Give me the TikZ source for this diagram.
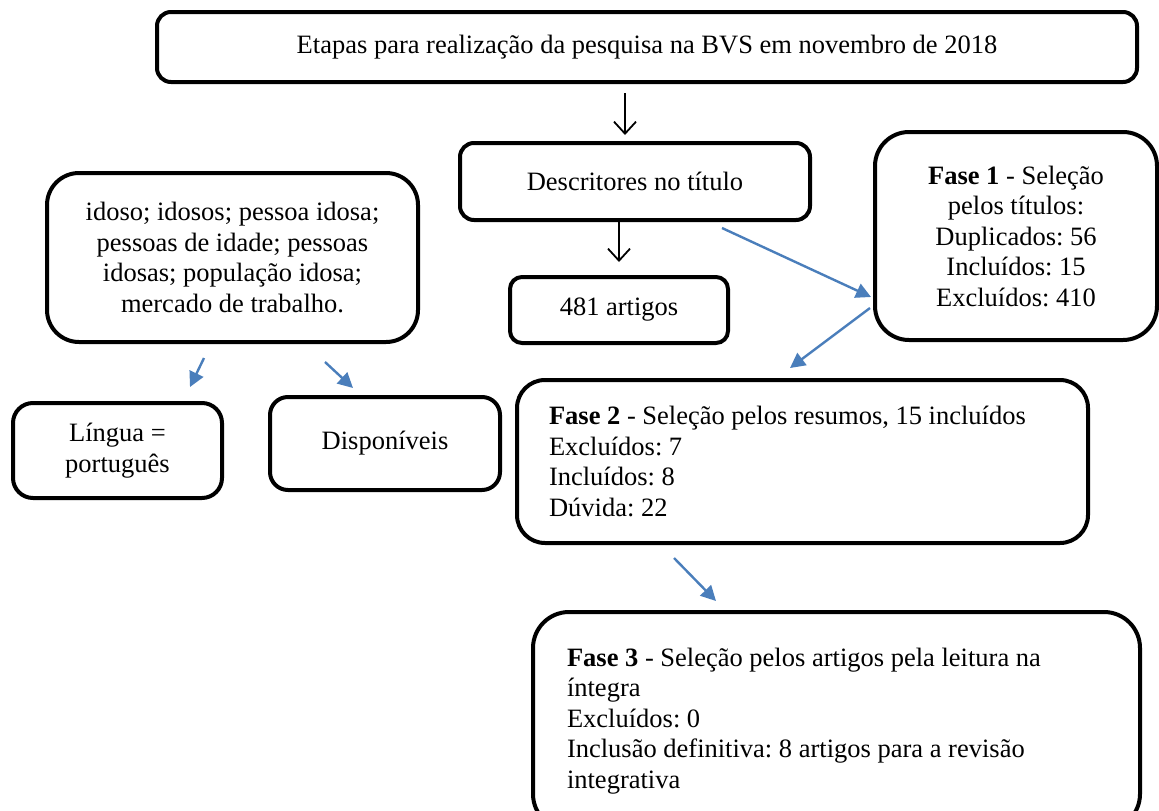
\documentclass[tikz,border=0pt]{standalone}
\usepackage{fontspec}
\setmainfont{Liberation Serif}
\usetikzlibrary{arrows.meta}
\definecolor{oblue}{HTML}{4A7EBB}
\frenchspacing

\tikzset{
  caixa/.style={draw, line width=4pt, rounded corners=#1, align=center,
    inner sep=0pt, font=\fontsize{26.5}{30.5}\selectfont},
  caixa/.default=14pt,
  setap/.style={-{Straight Barb[length=12pt,width=22pt]}, line width=1.8pt},
  setaz/.style={-{Triangle[length=15pt,width=15pt]}, oblue, line width=2.4pt}
}

\begin{document}
\begin{tikzpicture}[x=1pt, y=-1pt]
  \useasboundingbox (0,0) rectangle (1159,811);

  % caixas
  \node [caixa, minimum width=980pt, minimum height=70pt] (etapas) at (647,47)
    {Etapas para realização da pesquisa na BVS em novembro de 2018};
  \node [caixa, minimum width=350pt, minimum height=77pt] (descr) at (635,181.5)
    {Descritores no título};
  \node [caixa=12pt, minimum width=218pt, minimum height=66pt] (artigos) at (619,310)
    {481 artigos};
  \node [caixa=32pt, minimum width=371pt, minimum height=169pt] (termos) at (232.5,257.5)
    {idoso; idosos; pessoa idosa;\\ pessoas de idade; pessoas\\ idosas; população idosa;\\ mercado de trabalho.};
  \node [caixa=34pt, minimum width=282pt, minimum height=208pt] (fase1) at (1016,236)
    {\textbf{Fase 1} - Seleção\\ pelos títulos:\\ Duplicados: 56\\ Incluídos: 15\\ Excluídos: 410};
  \node [caixa=20pt, minimum width=209pt, minimum height=95pt] (lingua) at (117.5,450.5)
    {Língua =\\ português};
  \node [caixa=18pt, minimum width=230pt, minimum height=93pt] (dispon) at (385,443.5)
    {Disponíveis};
  \node [caixa=28pt, minimum width=571pt, minimum height=163pt, text width=507pt,
    align=flush left] (fase2) at (802.5,461.5)
    {\textbf{Fase 2} - Seleção pelos resumos, 15 incluídos\\ Excluídos: 7\\ Incluídos: 8\\ Dúvida: 22};
  \node [caixa=36pt, minimum width=607pt, minimum height=218pt, text width=539pt,
    align=flush left] (fase3) at (836.5,721)
    {\textbf{Fase 3} - Seleção pelos artigos pela leitura na\\ íntegra\\ Excluídos: 0\\
     Inclusão definitiva: 8 artigos para a revisão\\ integrativa};

  % pontas das setas
  \coordinate (p1) at (625,93);   \coordinate (q1) at (625,135);
  \coordinate (p2) at (619,222);  \coordinate (q2) at (619,262);
  \coordinate (p3) at (722,228);  \coordinate (q3) at (871,297);
  \coordinate (p4) at (870,308);  \coordinate (q4) at (790,368);
  \coordinate (p5) at (204,358);  \coordinate (q5) at (190,387);
  \coordinate (p6) at (325,362);  \coordinate (q6) at (353,388);
  \coordinate (p7) at (674,558);  \coordinate (q7) at (716,601);

  \draw [setap] (p1) -- (q1);
  \draw [setap] (p2) -- (q2);
  \draw [setaz] (p3) -- (q3);
  \draw [setaz] (p4) -- (q4);
  \draw [setaz] (p5) -- (q5);
  \draw [setaz] (p6) -- (q6);
  \draw [setaz] (p7) -- (q7);
\end{tikzpicture}
\end{document}
